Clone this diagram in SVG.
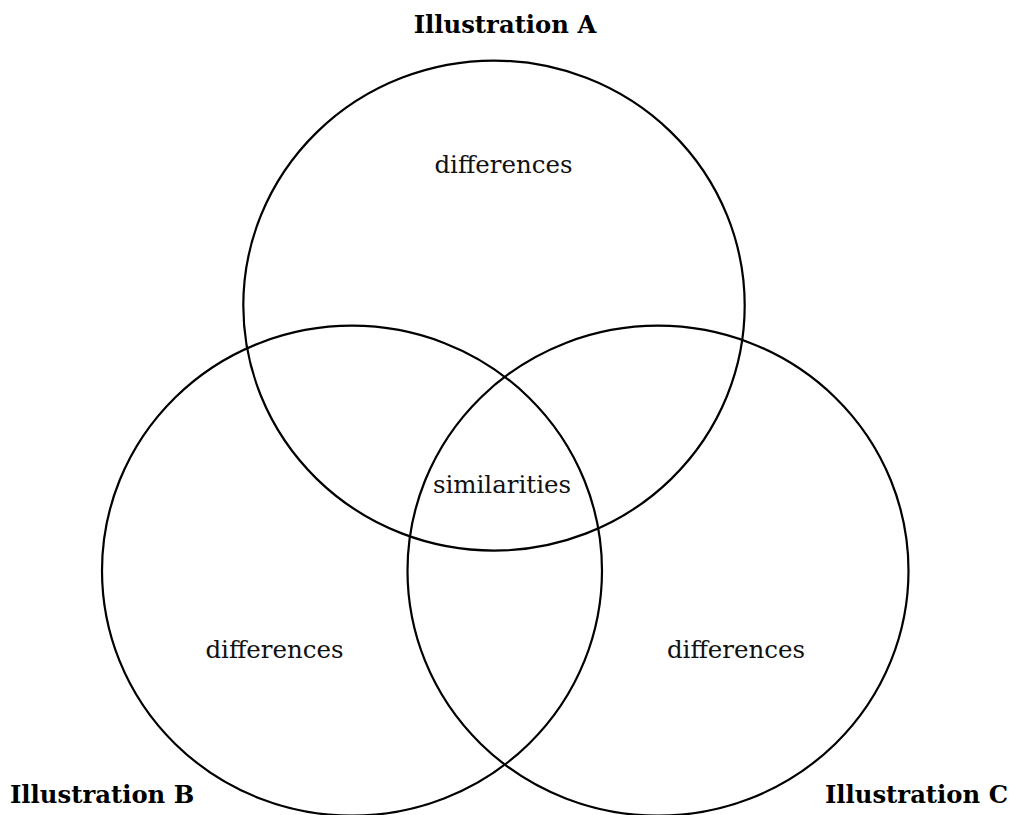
<svg xmlns="http://www.w3.org/2000/svg" width="1017" height="815" viewBox="0 0 1017 815">
<style>
.c{fill:none;stroke:#000;stroke-width:2.2}
.t{font-family:"DejaVu Serif","Liberation Serif",serif;font-size:24.5px;fill:#111;text-anchor:middle}
.b{font-family:"DejaVu Serif","Liberation Serif",serif;font-size:24.3px;font-weight:bold;fill:#000}
</style>
<rect width="1017" height="815" fill="#fff"/>
<g id="circleA"><ellipse class="c" cx="494" cy="305.6" rx="250.7" ry="245"/></g>
<g id="circleB"><ellipse class="c" cx="352" cy="570.7" rx="250" ry="245"/></g>
<g id="circleC"><ellipse class="c" cx="658" cy="570.7" rx="250.5" ry="245"/></g>
<g id="labels">
<text class="b" x="505" y="33" text-anchor="middle">Illustration A</text>
<text class="t" x="503.5" y="173">differences</text>
<text class="t" x="502" y="493">similarities</text>
<text class="t" x="274.5" y="658">differences</text>
<text class="t" x="736" y="658">differences</text>
<text class="b" x="10" y="803">Illustration B</text>
<text class="b" x="1008" y="803" text-anchor="end">Illustration C</text>
</g>
</svg>
